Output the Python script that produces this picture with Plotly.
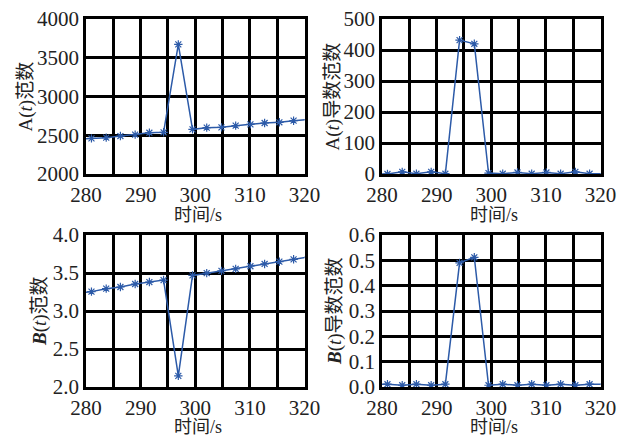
import plotly.graph_objects as go
from plotly.subplots import make_subplots

# time samples (s)
t = [278.4, 281.0, 283.7, 286.3, 289.0, 291.6, 294.2, 296.9, 299.5, 302.1, 304.8, 307.4, 310.1, 312.7, 315.4, 318.0, 320.7]
# A(t) norm
a_norm = [2450, 2460, 2469, 2490, 2508, 2533, 2538, 3673, 2576, 2598, 2602, 2624, 2641, 2658, 2667, 2688, 2702]
# A(t) derivative norm
a_deriv = [1, 0, 7, 1, 7, 1, 432, 420, 3, 1, 5, 1, 5, 1, 7, 1, 1]
# B(t) norm
b_norm = [3.23, 3.255, 3.294, 3.316, 3.355, 3.381, 3.407, 2.147, 3.468, 3.498, 3.528, 3.554, 3.589, 3.619, 3.649, 3.680, 3.71]
# B(t) derivative norm
b_deriv = [0.011, 0.011, 0.007, 0.011, 0.007, 0.011, 0.49, 0.512, 0.007, 0.011, 0.007, 0.011, 0.007, 0.011, 0.007, 0.011, 0.011]

x_ticks = [280, 290, 300, 310, 320]
x_title = "时间/s"
y_titles = ["A(<i>t</i>)范数", "A(<i>t</i>)导数范数",
            "<b><i>B</i></b>(<i>t</i>)范数", "<b><i>B</i></b>(<i>t</i>)导数范数"]
y_ranges = [[2000, 4000], [0, 500], [2.0, 4.0], [0, 0.6]]
y_dticks = [500, 100, 0.5, 0.1]
y_formats = ["d", "d", ".1f", ".1f"]
series = [a_norm, a_deriv, b_norm, b_deriv]

W, H = 619, 437
fig = make_subplots(rows=2, cols=2)

# plot-area boxes in pixels (left, right, top, bottom)
boxes = [(86, 304.5, 19, 174), (382, 600.5, 19, 174),
         (86, 304.5, 235, 387), (382, 600.5, 235, 387)]
# axis-title centres in pixels
ytitle_x = [25, 332, 40, 335]
xtitle_y = [215, 427]

font_fam = "Liberation Serif"
title_fam = "Liberation Serif, Noto Sans CJK SC"
txt_color = "#222"
line_color = "#2c5aa8"


def px_x(x):
    return x / W


def px_y(y):
    return 1 - y / H


for i, (ys, box) in enumerate(zip(series, boxes)):
    r, c = i // 2 + 1, i % 2 + 1
    fig.add_trace(go.Scatter(x=t, y=ys, mode="lines+markers",
                             line=dict(color=line_color, width=1.5),
                             marker=dict(symbol="asterisk-open", size=7,
                                         line=dict(color=line_color, width=1.2)),
                             showlegend=False), row=r, col=c)
    l, rr, tp, bt = box
    xd = [px_x(l), px_x(rr)]
    yd = [px_y(bt), px_y(tp)]
    axn = "" if i == 0 else str(i + 1)
    fig.layout["xaxis" + axn].update(
        domain=xd, range=[280, 320], tickvals=x_ticks, ticks="", showgrid=True,
        automargin=False, ticklabeloverflow="allow",
        gridcolor="black", gridwidth=2.5, showline=True, linecolor="black",
        linewidth=2.5, mirror=True, zeroline=False,
        minor=dict(dtick=5, tick0=280, showgrid=True, gridcolor="black", gridwidth=2.5),
        tickfont=dict(family=font_fam, size=21, color=txt_color))
    fig.layout["yaxis" + axn].update(
        domain=yd, range=y_ranges[i], dtick=y_dticks[i], tickformat=y_formats[i],
        automargin=False, ticklabeloverflow="allow",
        ticks="", showgrid=True, gridcolor="black", gridwidth=2.5, showline=True,
        linecolor="black", linewidth=2.5, mirror=True, zeroline=False,
        tickfont=dict(family=font_fam, size=21, color=txt_color))
    # y-axis title
    fig.add_annotation(text=y_titles[i], xref="paper", yref="paper",
                       x=px_x(ytitle_x[i]), y=px_y((tp + bt) / 2), textangle=-90,
                       showarrow=False, xanchor="center", yanchor="middle",
                       font=dict(family=title_fam, size=19, color=txt_color))
    # x-axis title
    fig.add_annotation(text=x_title, xref="paper", yref="paper",
                       x=px_x((l + rr) / 2 + 3), y=px_y(xtitle_y[r - 1]),
                       showarrow=False, xanchor="center", yanchor="middle",
                       font=dict(family=title_fam, size=18, color=txt_color))

fig.update_layout(width=W, height=H, margin=dict(l=0, r=0, t=0, b=0),
                  paper_bgcolor="white", plot_bgcolor="white")
fig.write_html("out.html", config={"displayModeBar": False},
               post_script="document.body.style.margin='0px';")
